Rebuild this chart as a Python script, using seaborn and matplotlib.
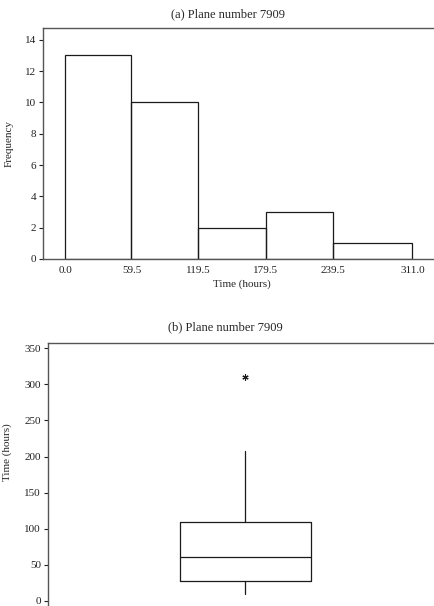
import numpy as np
import pandas as pd
import matplotlib
matplotlib.use("Agg")
import matplotlib.pyplot as plt
import seaborn as sns

# Failure times (hours) for plane number 7909
times = [90, 10, 60, 186, 61, 49, 14, 24, 56, 20, 79, 84, 44, 59, 29,
         118, 25, 156, 310, 76, 26, 44, 23, 62, 130, 208, 70, 101, 208]
bin_edges = [0.0, 59.5, 119.5, 179.5, 239.5, 311.0]
tick_labels = ["0.0", "59.5", "119.5", "179.5", "239.5", "311.0"]
freq_ticks = [0, 2, 4, 6, 8, 10, 12, 14]
time_ticks = [0, 50, 100, 150, 200, 250, 300, 350]

df = pd.DataFrame({"time": times})

sns.set_style("white")
plt.rcParams["font.family"] = ["Liberation Serif", "DejaVu Serif"]
plt.rcParams["axes.edgecolor"] = "#555555"
plt.rcParams["axes.linewidth"] = 1.0

W, H = 435, 606
fig = plt.figure(figsize=(W / 100, H / 100), dpi=100)

def box(l, t, r, b):
    return [l / W, 1 - b / H, (r - l) / W, (b - t) / H]

# ---------- (a) histogram ----------
ax1 = fig.add_axes(box(43, 28, 440, 259))
sns.histplot(data=df, x="time", bins=bin_edges, fill=False, color="#1a1a1a",
             edgecolor="#1a1a1a", linewidth=0.9, element="bars", ax=ax1)
ax1.set_xlim(-19.7, 335.7)
ax1.set_ylim(0, 14.75)
ax1.set_xticks(bin_edges)
ax1.set_xticklabels(tick_labels)
ax1.set_yticks(freq_ticks)
ax1.tick_params(axis="x", length=0, pad=5, labelsize=8, colors="#222222")
ax1.tick_params(axis="y", length=3, width=0.8, direction="out", pad=2,
                labelsize=8, colors="#222222", left=True)
ax1.set_xlabel("Time (hours)", fontsize=8, labelpad=3)
ax1.set_ylabel("Frequency", fontsize=8, labelpad=8)
fig.text(228 / W, 1 - 14 / H, "(a) Plane number 7909", ha="center",
         va="center", fontsize=9)

# ---------- (b) boxplot ----------
ax2 = fig.add_axes(box(48, 343, 435, 610))
q1, med, q3 = np.percentile(times, [25, 50, 75], method="weibull")
iqr = q3 - q1
arr = np.array(times)
inside = arr[(arr >= q1 - 1.5 * iqr) & (arr <= q3 + 1.5 * iqr)]
stats = [dict(med=med, q1=q1, q3=q3, whislo=inside.min(), whishi=inside.max(),
              fliers=arr[(arr < q1 - 1.5 * iqr) | (arr > q3 + 1.5 * iqr)])]
line = dict(color="#1a1a1a", linewidth=0.9)
ax2.bxp(stats, positions=[0], widths=0.5, showcaps=False,
        boxprops=line, whiskerprops=line, medianprops=line,
        flierprops=dict(marker=(6, 2, 0), markersize=4.5, markeredgewidth=0.8,
                        markeredgecolor="#1a1a1a", linestyle="none"))
ax2.set_xlim(-0.752, 0.725)
ax2.set_ylim(-12.5, 357.3)
ax2.set_xticks([])
ax2.set_yticks(time_ticks)
ax2.tick_params(axis="y", length=3, width=0.8, direction="out", pad=2,
                labelsize=8, colors="#222222", left=True)
ax2.set_ylabel("Time (hours)", fontsize=8)
ax2.yaxis.set_label_coords(-0.092, 0.59)
fig.text(225 / W, 1 - 327 / H, "(b) Plane number 7909", ha="center",
         va="center", fontsize=9)

fig.savefig("out.png", dpi=100)
